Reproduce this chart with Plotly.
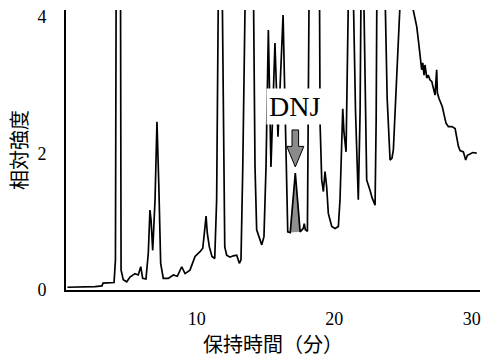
import plotly.graph_objects as go
import numpy as np

# Chromatogram: retention time (min) vs relative intensity
time_min = [
    0.60, 1.51, 2.60, 3.11, 3.19, 3.99, 4.09, 4.14, 4.30, 4.46, 4.50, 4.66, 4.91, 5.15, 5.51,
    5.75, 5.93, 6.07, 6.31, 6.48, 6.60, 6.68, 6.80, 6.97, 7.11, 7.24, 7.38, 7.57, 7.93, 8.30,
    8.59, 8.91, 9.15, 9.51, 9.88, 10.24, 10.44, 10.58, 10.68, 10.77, 10.92, 11.11, 11.31, 11.45,
    11.57, 11.72, 11.86, 12.04, 12.18, 12.42, 12.66, 12.91, 13.10, 13.22, 13.35, 13.51, 13.82,
    14.13, 14.24, 14.36, 14.60, 14.73, 14.89, 15.04, 15.21, 15.40, 15.69, 15.91, 16.28, 16.50,
    16.62, 16.80, 17.17, 17.52, 17.75, 17.82, 17.90, 18.05, 18.17, 18.55, 18.93, 18.97, 19.09,
    19.21, 19.33, 19.45, 19.57, 19.82, 20.06, 20.30, 20.42, 20.62, 20.71, 20.86, 21.03, 21.21,
    21.39, 21.55, 21.70, 21.75, 21.88, 21.95, 22.05, 22.15, 22.30, 22.36, 22.60, 22.75, 22.97,
    23.05, 23.10, 23.40, 23.70, 23.85, 24.06, 24.20, 24.30, 24.55, 24.71, 25.20, 25.75, 26.00,
    26.12, 26.24, 26.36, 26.44, 26.53, 26.60, 26.73, 26.84, 26.97, 27.09, 27.21, 27.33, 27.45,
    27.50, 27.62, 27.75, 27.86, 27.99, 28.13, 28.30, 28.55, 28.79, 28.91, 29.03, 29.15, 29.39,
    29.56, 29.68, 29.88, 30.07, 30.36,
]
intensity = [
    0.04, 0.04, 0.05, 0.06, 0.10, 0.11, 0.44, 4.30, 9.00, 4.30, 0.29, 0.15, 0.12, 0.19, 0.24,
    0.22, 0.34, 0.17, 0.16, 0.54, 1.17, 1.02, 0.58, 1.32, 2.46, 1.56, 0.39, 0.17, 0.17, 0.22,
    0.20, 0.34, 0.24, 0.29, 0.49, 0.56, 0.61, 0.88, 1.08, 0.83, 0.63, 0.49, 0.46, 1.32,
    4.30, 8.00, 4.30, 0.63, 0.51, 0.48, 0.50, 0.51, 0.39, 0.44, 1.80, 4.30, 8.50,
    4.30, 1.80, 0.88, 0.73, 0.66, 0.78, 1.80, 3.80, 1.80, 3.61, 2.24, 4.02, 2.10,
    0.85, 0.84, 1.71, 0.85, 0.90, 0.97, 0.88, 0.86, 4.30, 9.00, 4.30, 2.44, 1.61,
    1.44, 1.73, 1.51, 1.12, 0.93, 0.90, 0.93, 1.32, 2.65, 2.30, 2.02, 4.30, 8.00,
    4.30, 2.60, 1.45, 1.32, 2.60, 4.30, 7.00, 4.30, 1.90, 1.61, 1.46, 1.35, 1.24,
    2.50, 4.30, 9.00, 4.30, 2.80, 1.90, 1.93, 2.05, 3.26, 4.15, 6.00, 4.09, 3.85,
    3.65, 3.46, 3.22, 3.32, 3.14, 3.29, 3.10, 3.14, 3.07, 3.05, 2.95, 2.85, 3.22,
    2.88, 2.80, 2.73, 2.68, 2.56, 2.44, 2.39, 2.39, 2.36, 2.24, 2.10, 2.04, 2.02,
    1.90, 1.97, 1.99, 2.01, 2.00,
]

x_ticks = [10, 20, 30]
y_ticks = [0, 2, 4]

dnj_label = "DNJ"
dnj_time = 17.17       # retention time of the DNJ peak
dnj_window = (16.75, 17.60)

t = np.array(time_min)
y = np.array(intensity)

fig = go.Figure()

# shaded DNJ peak
mask = (t >= dnj_window[0]) & (t <= dnj_window[1])
fig.add_trace(go.Scatter(
    x=t[mask], y=y[mask], mode="lines", fill="toself",
    fillcolor="#8f8f8f", line=dict(color="#8f8f8f", width=0.5),
    hoverinfo="skip", showlegend=False,
))

# chromatogram trace
fig.add_trace(go.Scatter(
    x=t, y=y, mode="lines",
    line=dict(color="black", width=1.7),
    showlegend=False,
))

serif = "Liberation Serif, Times New Roman, serif"
cjk = "Noto Sans CJK JP"

# block arrow pointing down to the DNJ peak
ax = dnj_time
shaft_hw, head_hw = 0.24, 0.62
y_top, y_head, y_tip = 2.34, 2.10, 1.80
path = (f"M {ax-shaft_hw},{y_top} L {ax+shaft_hw},{y_top} L {ax+shaft_hw},{y_head} "
        f"L {ax+head_hw},{y_head} L {ax},{y_tip} L {ax-head_hw},{y_head} "
        f"L {ax-shaft_hw},{y_head} Z")
fig.add_shape(type="path", path=path, xref="x", yref="y",
              fillcolor="#8a8a8a", line=dict(color="black", width=1))

fig.add_annotation(
    x=dnj_time - 0.09, y=2.68, xref="x", yref="y", text=dnj_label, showarrow=False,
    font=dict(family=serif, size=28, color="black"),
    bgcolor="white", borderpad=2,
)

fig.update_layout(
    width=481, height=364,
    margin=dict(l=66, r=1, t=10, b=74),
    paper_bgcolor="white", plot_bgcolor="white",
    xaxis=dict(
        range=[0.495, 30.60], tickvals=x_ticks, ticktext=[str(v) for v in x_ticks],
        showline=True, linecolor="black", linewidth=1.6,
        ticks="outside", ticklen=12, tickcolor="rgba(0,0,0,0)",
        showgrid=False, zeroline=False,
        tickfont=dict(family=serif, size=18, color="black"),
        title=dict(text="保持時間（分）", font=dict(family=cjk, size=20, color="black"), standoff=8),
    ),
    yaxis=dict(
        range=[0, 4.094], tickvals=y_ticks, ticktext=[str(v) for v in y_ticks],
        showline=True, linecolor="black", linewidth=1.6,
        ticks="outside", ticklen=14, tickcolor="rgba(0,0,0,0)",
        showgrid=False, zeroline=False,
        tickfont=dict(family=serif, size=18, color="black"),
        title=dict(text="相対強度", font=dict(family=cjk, size=20, color="black"), standoff=5),
    ),
)

fig.write_html(
    "out.html",
    config={"displayModeBar": False},
    post_script="document.body.style.margin='0';document.body.style.overflow='hidden';",
)
